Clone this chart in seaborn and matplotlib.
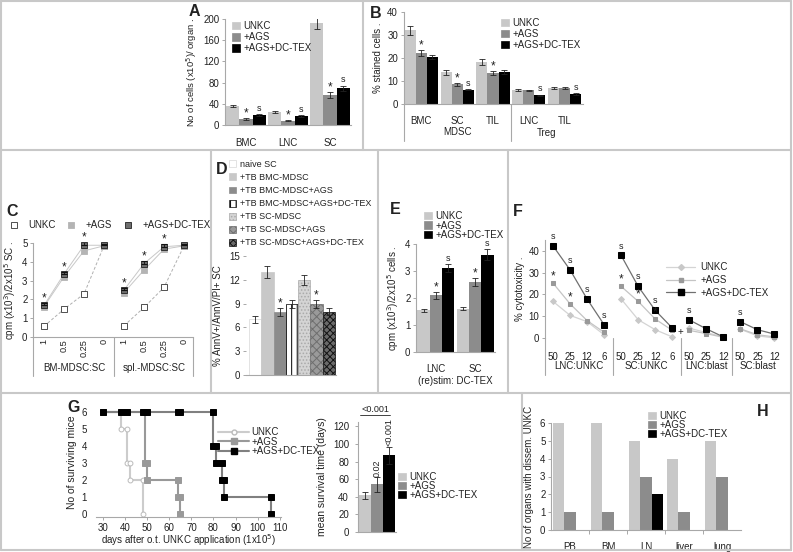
import numpy as np
import pandas as pd
import seaborn as sns
import matplotlib.pyplot as plt
from matplotlib.patches import Patch
from matplotlib.lines import Line2D

W, H = 793, 552

# ---------------- data ----------------
grp3 = ['UNKC', '+AGS', '+AGS+DC-TEX']

# A: cell numbers per organ
a_cats = ['BMC', 'LNC', 'SC']
a_unkc = [35.8, 25, 192]
a_unkc_err = [2.5, 1.5, 11]
a_ags = [11.3, 8.2, 56.6]
a_ags_err = [1, 1, 5]
a_dc = [18.9, 17, 69.2]
a_dc_err = [2, 2, 5]

# B: % stained cells
b_cats = ['BMC', 'SC', 'TIL', 'LNC', 'TIL']
b_unkc = [32, 13.7, 18.2, 6.2, 7.0]
b_unkc_err = [2, 1.0, 1.2, 0.5, 0.6]
b_ags = [22.3, 8.5, 13.5, 5.9, 7.0]
b_ags_err = [1.3, 0.6, 0.9, 0.4, 0.6]
b_dc = [20.5, 6.2, 14.0, 3.8, 4.2]
b_dc_err = [1.0, 0.3, 1.0, 0.3, 0.4]

# C: proliferation
c_ratio = ['1', '0.5', '0.25', '0']
c_groups = ['BM-MDSC:SC', 'spl.-MDSC:SC']
c_unkc = [0.57, 1.48, 2.29, 4.85, 0.6, 1.57, 2.64, 4.85]
c_ags = [1.62, 3.2, 4.58, 4.85, 2.36, 3.56, 4.67, 4.85]
c_dc = [1.68, 3.35, 4.88, 4.88, 2.5, 3.9, 4.8, 4.88]
c_dc_err = [0.12, 0.12, 0.15, 0.05, 0.12, 0.15, 0.15, 0.05]

# D: apoptosis
d_names = ['naive SC', '+TB BMC-MDSC', '+TB BMC-MDSC+AGS', '+TB BMC-MDSC+AGS+DC-TEX',
           '+TB SC-MDSC', '+TB SC-MDSC+AGS', '+TB SC-MDSC+AGS+DC-TEX']
d_vals = [7, 13, 8, 9, 12, 9, 8]
d_errs = [0.4, 0.8, 0.5, 0.5, 0.6, 0.5, 0.4]

# E: restimulation
e_cats = ['LNC', 'SC']
e_unkc = [1.55, 1.6]
e_unkc_err = [0.06, 0.06]
e_ags = [2.1, 2.6]
e_ags_err = [0.12, 0.15]
e_dc = [3.1, 3.6]
e_dc_err = [0.15, 0.2]

# F: cytotoxicity
f_ticks = ['50', '25', '12', '6', '50', '25', '12', '6', '50', '25', '12', '50', '25', '12']
f_groups = ['LNC:UNKC', 'SC:UNKC', 'LNC:blast', 'SC:blast']
f_group_len = [4, 4, 3, 3]
f_unkc = [16.8, 10.4, 7.5, 1.5, 17.9, 8.4, 3.8, 0.5, 4.5, 2.5, 0.5, 4.0, 1.0, 0.0]
f_ags = [25.2, 15.7, 8.0, 2.6, 23.7, 16.8, 8.7, 3.5, 3.5, 2.0, 0.3, 4.2, 1.5, 0.5]
f_dc = [42.3, 31.3, 17.9, 6.1, 37.9, 23.7, 12.7, 4.6, 8.3, 4.2, 0.5, 7.5, 3.8, 1.8]

# G: survival
g_unkc_x = [30, 38, 38, 41, 41, 42, 42, 48, 48]
g_unkc_y = [6, 6, 5, 5, 3, 3, 2, 2, 0]
g_ags_x = [30, 49, 49, 50, 50, 64, 64, 65, 65]
g_ags_y = [6, 6, 3, 3, 2, 2, 1, 1, 0]
g_dc_x = [30, 38, 41, 48, 50, 64, 65, 80, 80, 81, 81, 84, 84, 85, 85, 106, 106]
g_dc_y = [6, 6, 6, 6, 6, 6, 6, 6, 4, 4, 3, 3, 2, 2, 1, 1, 0]
g_mean = [42, 54, 87]
g_mean_err = [4, 8, 10]

# H: dissemination
h_cats = ['PB', 'BM', 'LN', 'liver', 'lung']
h_unkc = [6, 6, 5, 4, 5]
h_ags = [1, 1, 3, 1, 3]
h_dc = [0, 0, 2, 0, 0]

# ---------------- style ----------------
sns.set_theme(style='white')
plt.rcParams['font.family'] = ['Liberation Sans', 'DejaVu Sans']
plt.rcParams['hatch.linewidth'] = 0.7
TXT = '#222222'
AX = '#a8a8a8'
FRAME = '#c8c8c8'
COL3 = ['#c8c8c8', '#8c8c8c', '#000000']
FS = 7

fig = plt.figure(figsize=(W / 100, H / 100), dpi=100)


def px_axes(l, t, r, b):
    return fig.add_axes([l / W, 1 - b / H, (r - l) / W, (b - t) / H])


def fx(x):
    return x / W


def fy(y):
    return 1 - y / H


def style(ax):
    sns.despine(ax=ax)
    for s in ('left', 'bottom'):
        ax.spines[s].set_color(AX)
        ax.spines[s].set_linewidth(0.8)
    ax.tick_params(axis='y', left=True, labelsize=FS, labelcolor=TXT, color=AX,
                   length=2.5, width=0.7, pad=1.5)
    ax.tick_params(axis='x', bottom=False, labelsize=FS, labelcolor=TXT, pad=3)
    ax.set_xlabel('')
    ax.set_ylabel('')
    ax.set_facecolor('none')
    ax.grid(False)


def bars(ax, cats, series, colors, width=0.93, errs=True):
    names = list(series)
    n = len(cats)
    df = pd.DataFrame({'cat': [i for _ in names for i in range(n)],
                       'grp': [g for g in names for _ in range(n)],
                       'val': [v for g in names for v in series[g][0]]})
    sns.barplot(data=df, x='cat', y='val', hue='grp', hue_order=names, order=list(range(n)),
                palette=colors, width=width, errorbar=None, saturation=1, ax=ax,
                legend=False, linewidth=0)
    pos = {}
    for g, cont in zip(names, ax.containers):
        xs = [p.get_x() + p.get_width() / 2 for p in cont]
        pos[g] = xs
        if errs:
            ax.errorbar(xs, series[g][0], yerr=series[g][1], fmt='none', ecolor='#222222',
                        elinewidth=0.6, capsize=2.2, capthick=0.6)
    ax.set_xticks(range(n))
    ax.set_xticklabels(cats)
    style(ax)
    return pos


def mark(ax, xs, ys, s, dy=1, fs=None):
    for x, y in zip(xs, ys):
        ax.annotate(s, (x, y), xytext=(0, dy), textcoords='offset points',
                    ha='center', va='bottom', fontsize=fs or (8.5 if s == '*' else 6.5),
                    color=TXT, annotation_clip=False)


def sq_legend(ax, labels, colors, x, y, fs=FS, spacing=0.05, hatches=None, edges=None):
    hs = []
    for i, (lab, c) in enumerate(zip(labels, colors)):
        hs.append(Patch(facecolor=c, label=lab, linewidth=0.5,
                        edgecolor=(edges[i] if edges else c),
                        hatch=(hatches[i] if hatches else None)))
    ax.legend(handles=hs, loc='upper left', bbox_to_anchor=(fx(x), fy(y)),
              bbox_transform=fig.transFigure, frameon=False, fontsize=fs,
              handlelength=0.8, handleheight=0.8, handletextpad=0.4,
              labelspacing=spacing, borderpad=0, borderaxespad=0, labelcolor=TXT)


def sep(ax, x, y0, y1):
    ax.plot([x, x], [y0, y1], transform=ax.get_xaxis_transform(), color=AX,
            lw=0.8, clip_on=False)


def letter(x, y, s):
    fig.text(fx(x), fy(y), s, fontsize=11.5, fontweight='bold', color=TXT,
             ha='center', va='center')


# ---------------- frame lines ----------------
for (x1, y1, x2, y2) in [(1, 1, 791, 1), (1, 550, 791, 550), (1, 1, 1, 550), (791, 1, 791, 550),
                         (1, 150, 791, 150), (1, 393, 791, 393), (363, 1, 363, 150),
                         (211, 150, 211, 393), (378, 150, 378, 393), (508, 150, 508, 393),
                         (522, 393, 522, 550)]:
    fig.add_artist(Line2D([fx(x1), fx(x2)], [fy(y1), fy(y2)], color=FRAME, lw=1.5))

# ---------------- A ----------------
axA = px_axes(225, 19, 351, 125)
pA = bars(axA, a_cats, {'UNKC': (a_unkc, a_unkc_err), '+AGS': (a_ags, a_ags_err),
                        '+AGS+DC-TEX': (a_dc, a_dc_err)}, COL3)
axA.set_ylim(0, 200)
axA.set_yticks(range(0, 201, 40))
axA.set_xlim(-0.5, 2.5)
mark(axA, pA['+AGS'], np.add(a_ags, a_ags_err), '*', dy=-1)
mark(axA, pA['+AGS+DC-TEX'], np.add(a_dc, a_dc_err), 's', dy=1)
axA.set_ylabel('No of cells (x10$^5$)/ organ .', fontsize=6.8, color=TXT, labelpad=3)
sq_legend(axA, grp3, COL3, 232, 21, spacing=0.12)
letter(194, 11, 'A')

# ---------------- B ----------------
axB = px_axes(403.5, 12, 582.5, 104)
pB = bars(axB, b_cats, {'UNKC': (b_unkc, b_unkc_err), '+AGS': (b_ags, b_ags_err),
                        '+AGS+DC-TEX': (b_dc, b_dc_err)}, COL3)
axB.set_ylim(0, 40)
axB.set_yticks(range(0, 41, 10))
axB.set_xlim(-0.5, 4.5)
mark(axB, [pB['+AGS'][i] for i in (0, 1, 2)], [b_ags[i] + b_ags_err[i] for i in (0, 1, 2)], '*', dy=-1)
mark(axB, [pB['+AGS+DC-TEX'][i] for i in (1, 3, 4)], [b_dc[i] + b_dc_err[i] for i in (1, 3, 4)], 's', dy=1)
axB.set_ylabel('% stained cells .', fontsize=FS, color=TXT, labelpad=3)
sep(axB, -0.5, 0, -0.4)
sep(axB, 2.5, 0, -0.4)
axB.text(1, -0.3, 'MDSC', transform=axB.get_xaxis_transform(), ha='center', va='center',
         fontsize=FS, color=TXT)
axB.text(3.5, -0.32, 'Treg', transform=axB.get_xaxis_transform(), ha='center', va='center',
         fontsize=FS, color=TXT)
sq_legend(axB, grp3, COL3, 501, 18, spacing=0.1)
letter(376, 13, 'B')

# ---------------- C ----------------
axC = px_axes(33, 243, 193, 337)
c_x = list(range(8))
c_style = {'UNKC': (c_unkc, 'white', '#333333', '#b0b0b0', (0, (3, 2))),
           '+AGS': (c_ags, '#b4b4b4', '#b4b4b4', '#c8c8c8', '-'),
           '+AGS+DC-TEX': (c_dc, '#6e6e6e', '#222222', '#c8c8c8', '-')}
for name, (vals, fc, ec, lc, ls) in c_style.items():
    for g in range(2):
        sl = slice(4 * g, 4 * g + 4)
        sns.lineplot(x=c_x[sl], y=vals[sl], ax=axC, color=lc, lw=0.7, linestyle=ls,
                     marker='s', markersize=4, markerfacecolor=fc, markeredgecolor=ec,
                     markeredgewidth=0.6, estimator=None, sort=False, errorbar=None,
                     clip_on=False)
axC.errorbar(c_x, c_dc, yerr=[[0] * 8, c_dc_err], fmt='none', ecolor='#111111',
             elinewidth=0.6, capsize=2.5, capthick=0.8)
style(axC)
axC.set_xlim(-0.55, 7.45)
axC.set_ylim(0, 5)
axC.set_yticks(range(6))
axC.set_xticks(c_x)
axC.set_xticklabels(c_ratio * 2, rotation=90)
axC.tick_params(axis='x', length=0, pad=1.5, labelsize=6.6)
star_idx = [0, 1, 2, 4, 5, 6]
mark(axC, star_idx, [c_dc[i] + c_dc_err[i] for i in star_idx], '*', dy=-1)
for xs in (-0.55, 3.5, 7.45):
    sep(axC, xs, 0, -0.41)
for g in range(2):
    axC.text(1.5 + 4 * g, -0.325, c_groups[g], transform=axC.get_xaxis_transform(),
             ha='center', va='center', fontsize=FS, color=TXT)
axC.set_ylabel('cpm (x10$^3$)/2x10$^5$ SC .', fontsize=FS, color=TXT, labelpad=3)
c_handles = [Line2D([], [], ls='none', marker='s', markersize=4, markerfacecolor=c_style[n][1],
                    markeredgecolor=c_style[n][2], markeredgewidth=0.6, label=n) for n in grp3]
axC.legend(handles=c_handles, loc='center left', bbox_to_anchor=(fx(8), fy(225)),
           bbox_transform=fig.transFigure, ncol=3, frameon=False, fontsize=FS,
           handlelength=1.2, handletextpad=0.9, columnspacing=1.0, borderpad=0,
           borderaxespad=0, labelcolor=TXT)
letter(12, 211, 'C')

# ---------------- D ----------------
axD = px_axes(246, 256, 336, 375)
d_fc = ['white', '#c8c8c8', '#8c8c8c', 'white', '#d4d4d4', '#9a9a9a', '#6a6a6a']
d_ec = ['#d8d8d8', '#c8c8c8', '#8c8c8c', '#000000', '#aaaaaa', '#6e6e6e', '#111111']
d_hatch = [None, None, None, '|||', '.....', 'xxxx', 'xxxxx']
dfD = pd.DataFrame({'name': d_names, 'val': d_vals})
sns.barplot(data=dfD, x='name', y='val', hue='name', order=d_names, hue_order=d_names,
            palette=d_fc, width=1.0, errorbar=None, saturation=1, ax=axD, legend=False)
d_x = []
for i, cont in enumerate(axD.containers):
    for p in cont:
        p.set_facecolor(d_fc[i])
        p.set_edgecolor(d_ec[i])
        p.set_linewidth(0.5)
        if d_hatch[i]:
            p.set_hatch(d_hatch[i])
        d_x.append(p.get_x() + p.get_width() / 2)
axD.errorbar(d_x, d_vals, yerr=d_errs, fmt='none', ecolor='#222222', elinewidth=0.6,
             capsize=2.2, capthick=0.6)
style(axD)
axD.set_xticks([])
axD.set_xlim(-0.75, 6.6)
axD.set_ylim(0, 15)
axD.set_yticks(range(0, 16, 3))
axD.spines['left'].set_visible(False)
mark(axD, [d_x[2], d_x[5]], [d_vals[2] + d_errs[2], d_vals[5] + d_errs[5]], '*', dy=-1)
axD.set_ylabel('% AnnV+/AnnV/PI+ SC', fontsize=FS, color=TXT, labelpad=5)
sq_legend(axD, d_names, d_fc, 229, 160, fs=6.5, spacing=0.45, hatches=d_hatch, edges=d_ec)
letter(222, 169, 'D')

# ---------------- E ----------------
axE = px_axes(416, 244, 495, 352)
pE = bars(axE, e_cats, {'UNKC': (e_unkc, e_unkc_err), '+AGS': (e_ags, e_ags_err),
                        '+AGS+DC-TEX': (e_dc, e_dc_err)}, COL3)
axE.set_ylim(0, 4)
axE.set_yticks(range(5))
axE.set_xlim(-0.5, 1.5)
mark(axE, pE['+AGS'], np.add(e_ags, e_ags_err), '*', dy=-1)
mark(axE, pE['+AGS+DC-TEX'], np.add(e_dc, e_dc_err), 's', dy=1)
axE.set_xlabel('(re)stim: DC-TEX', fontsize=FS, color=TXT, labelpad=1)
axE.set_ylabel('cpm (x10$^3$)/2x10$^5$ cells .', fontsize=FS, color=TXT, labelpad=3)
sq_legend(axE, grp3, COL3, 424, 211, spacing=-0.05)
letter(395, 210, 'E')

# ---------------- F ----------------
axF = px_axes(545, 240, 783, 338)
f_x = list(range(14))
f_style = {'UNKC': (f_unkc, 'D', 3, '#c8c8c8', '#d4d4d4'),
           '+AGS': (f_ags, 's', 3.5, '#999999', '#c4c4c4'),
           '+AGS+DC-TEX': (f_dc, 's', 4, '#000000', '#707070')}
starts = np.cumsum([0] + f_group_len)
for name, (vals, mk, ms, mc, lc) in f_style.items():
    for g in range(4):
        sl = slice(starts[g], starts[g + 1])
        sns.lineplot(x=f_x[sl], y=vals[sl], ax=axF, color=lc, lw=0.9, marker=mk,
                     markersize=ms, markerfacecolor=mc, markeredgecolor=mc,
                     estimator=None, sort=False, errorbar=None, clip_on=False)
style(axF)
axF.set_xlim(-0.47, 13.5)
axF.set_ylim(0, 45)
axF.set_yticks(range(0, 41, 10))
axF.set_xticks(f_x)
axF.set_xticklabels(f_ticks)
axF.tick_params(axis='x', pad=4)
axF.spines['bottom'].set_visible(False)
mark(axF, [0, 1, 2, 3, 4, 5, 6, 8, 11], [f_dc[i] + 1 for i in (0, 1, 2, 3, 4, 5, 6, 8, 11)], 's', dy=2)
mark(axF, [0, 1, 4, 5, 6], [f_ags[i] + 1 for i in (0, 1, 4, 5, 6)], '*', dy=-1)
axF.annotate('+', (7, f_dc[7]), xytext=(6, -3), textcoords='offset points', fontsize=7,
             color=TXT, ha='center', va='center')
for xs in (-0.47, 3.5, 7.5, 10.5):
    sep(axF, xs, 0, -0.38)
centres = [(starts[g] + starts[g + 1] - 1) / 2 for g in range(4)]
for g in range(4):
    axF.text(centres[g], -0.29, f_groups[g], transform=axF.get_xaxis_transform(),
             ha='center', va='center', fontsize=FS, color=TXT)
axF.set_ylabel('% cytotoxicity .', fontsize=FS, color=TXT, labelpad=3)
f_handles = [Line2D([], [], color=f_style[n][4], lw=0.9, marker=f_style[n][1],
                    markersize=f_style[n][2], markerfacecolor=f_style[n][3],
                    markeredgecolor=f_style[n][3], label=n) for n in grp3]
axF.legend(handles=f_handles, loc='upper left', bbox_to_anchor=(fx(666), fy(262)),
           bbox_transform=fig.transFigure, frameon=False, fontsize=FS, handlelength=3.0,
           handletextpad=0.5, labelspacing=0.3, borderpad=0, borderaxespad=0, labelcolor=TXT)
letter(518, 212, 'F')

# ---------------- G ----------------
axG = px_axes(96, 407, 281, 517)
g_style = [('UNKC', g_unkc_x, g_unkc_y, '#cccccc', 'o', 'white', '#bbbbbb', 3.5),
           ('+AGS', g_ags_x, g_ags_y, '#999999', 's', '#999999', '#999999', 4),
           ('+AGS+DC-TEX', g_dc_x, g_dc_y, '#808080', 's', '#000000', '#000000', 4)]
for name, xs, ys, lc, mk, mfc, mec, ms in g_style:
    sns.lineplot(x=xs, y=ys, ax=axG, color=lc, lw=1.5, marker=mk, markersize=ms,
                 markerfacecolor=mfc, markeredgecolor=mec, markeredgewidth=0.7,
                 estimator=None, sort=False, errorbar=None, clip_on=False)
style(axG)
axG.spines['left'].set_visible(False)
axG.tick_params(axis='y', left=False, pad=4)
axG.tick_params(axis='x', bottom=True, length=2.5, color=AX, width=0.7, pad=1.5)
axG.set_xlim(26.8, 110.6)
axG.set_ylim(-0.2, 6.3)
axG.set_xticks(range(30, 111, 10))
axG.set_yticks(range(7))
axG.set_xlabel('days after o.t. UNKC application (1x10$^5$)', fontsize=FS, color=TXT, labelpad=0)
axG.set_ylabel('No of surviving mice', fontsize=FS + 0.5, color=TXT, labelpad=3)
g_handles = [Line2D([], [], color=s[3], lw=1.5, marker=s[4], markersize=s[7],
                    markerfacecolor=s[5], markeredgecolor=s[6], label=s[0]) for s in g_style]
axG.legend(handles=g_handles, loc='upper left', bbox_to_anchor=(fx(218), fy(427)),
           bbox_transform=fig.transFigure, frameon=False, fontsize=FS, handlelength=3.2,
           handletextpad=0.2, labelspacing=-0.05, borderpad=0, borderaxespad=0, labelcolor=TXT)
letter(74, 408, 'G')

# G inset: mean survival time
axG2 = px_axes(358, 422, 396, 532)
dfG = pd.DataFrame({'grp': grp3, 'val': g_mean})
sns.barplot(data=dfG, x='grp', y='val', hue='grp', order=grp3, hue_order=grp3, palette=COL3,
            width=1.0, errorbar=None, saturation=1, ax=axG2, legend=False, linewidth=0)
gx = [p.get_x() + p.get_width() / 2 for c in axG2.containers for p in c]
axG2.errorbar(gx, g_mean, yerr=g_mean_err, fmt='none', ecolor='#222222', elinewidth=0.6,
              capsize=2.2, capthick=0.6)
style(axG2)
axG2.set_xticks([])
axG2.set_xlim(-0.6, 2.6)
axG2.set_ylim(0, 125)
axG2.set_yticks(range(0, 121, 20))
axG2.tick_params(axis='y', pad=4)
axG2.text(gx[1], g_mean[1] + g_mean_err[1] + 1, '0.02', rotation=90, ha='center', va='bottom',
          fontsize=6.5, color=TXT)
axG2.text(gx[2], g_mean[2] + g_mean_err[2] + 1, '<0.001', rotation=90, ha='center', va='bottom',
          fontsize=6.5, color=TXT)
axG2.plot([gx[0] - 0.45, gx[2] + 0.1], [133, 133], color=TXT, lw=0.6, clip_on=False)
axG2.text((gx[0] + gx[2]) / 2 - 0.1, 134, '<0.001', ha='center', va='bottom', fontsize=6.5,
          color=TXT)
axG2.set_ylabel('mean survival time (days)', fontsize=FS + 0.5, color=TXT, labelpad=4)
sq_legend(axG2, grp3, COL3, 398, 472, spacing=-0.1)

# ---------------- H ----------------
axH = px_axes(551, 423, 741, 530)
bars(axH, h_cats, {'UNKC': (h_unkc, None), '+AGS': (h_ags, None),
                   '+AGS+DC-TEX': (h_dc, None)}, COL3, width=0.92, errs=False)
axH.set_ylim(0, 6)
axH.set_yticks(range(7))
axH.set_xlim(-0.5, 4.5)
axH.set_xticks(np.arange(0.5, 4.5, 1), minor=True)
axH.tick_params(axis='x', which='minor', bottom=True, length=3, color=AX, width=0.7)
axH.set_ylabel('No of organs with dissem. UNKC', fontsize=FS, color=TXT, labelpad=4)
sq_legend(axH, grp3, COL3, 648, 411, spacing=-0.1)
letter(763, 412, 'H')

fig.savefig('out.png', dpi=100)
